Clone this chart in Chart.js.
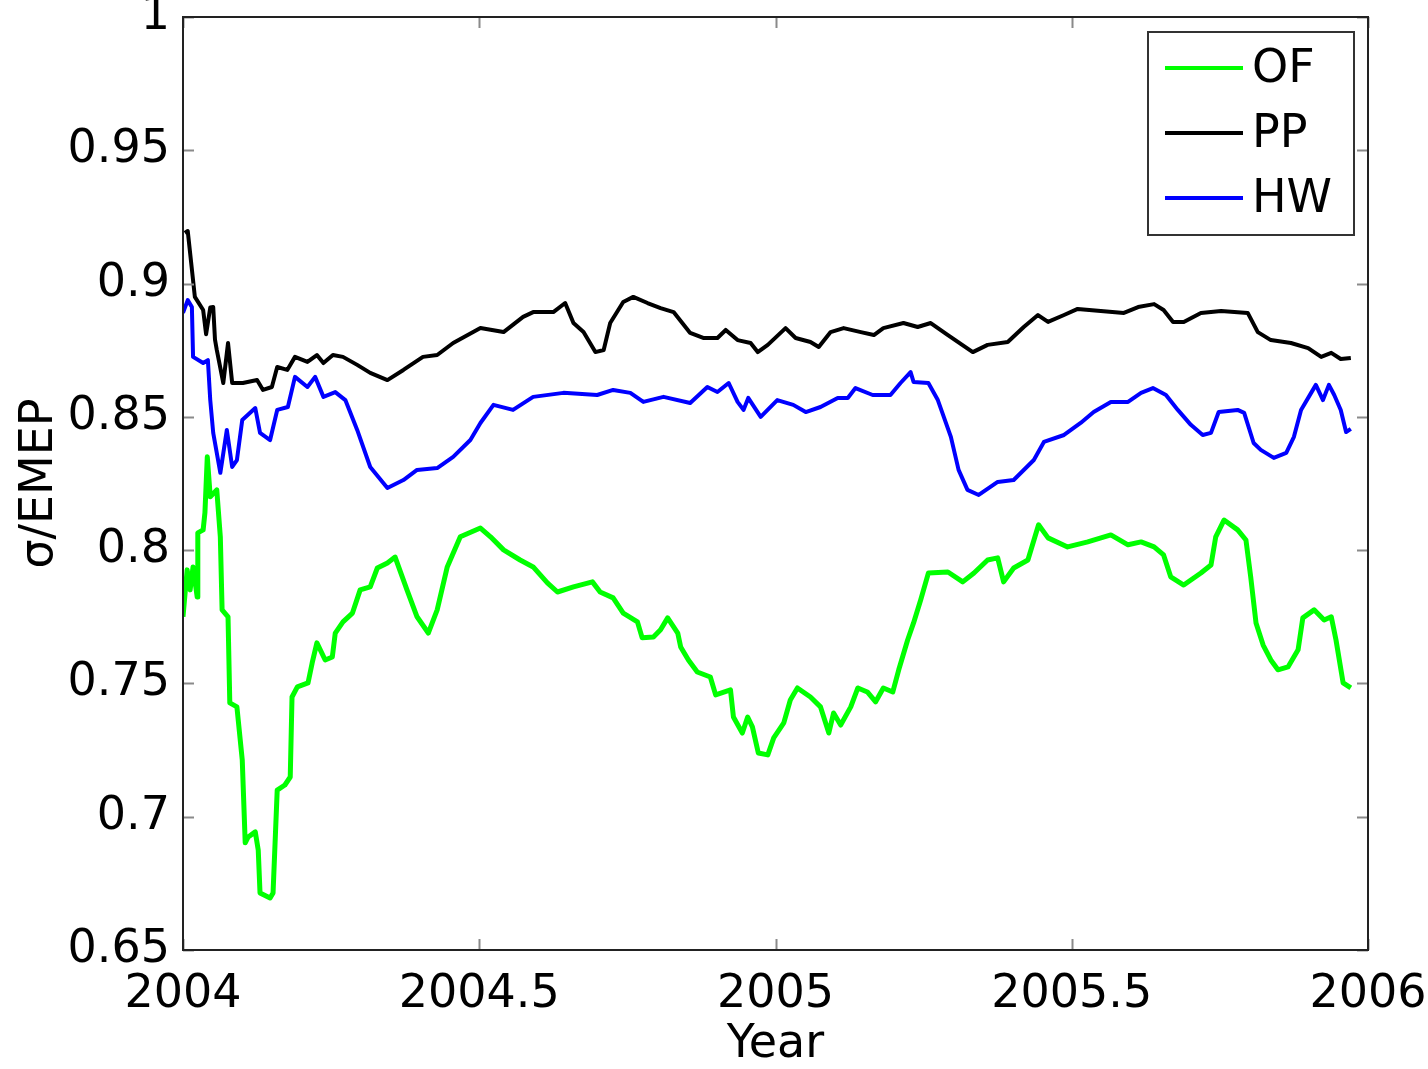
<!DOCTYPE html>
<html>
<head>
<meta charset="utf-8">
<script src="https://cdn.jsdelivr.net/npm/chart.js@4.4.1/dist/chart.umd.min.js"></script>
<style>
  html, body { margin: 0; padding: 0; background: #fff; }
  #wrap { width: 1428px; height: 1069px; position: relative; }
</style>
</head>
<body>
<div id="wrap"><canvas id="chart"></canvas></div>
<script>
const xTicks = [2004, 2004.5, 2005, 2005.5, 2006];
const yTicks = [0.65, 0.7, 0.75, 0.8, 0.85, 0.9, 0.95, 1];

// OF (green)
const ofYear = [
  2004.000, 2004.007, 2004.012, 2004.017, 2004.024, 2004.025, 2004.034, 2004.037, 2004.041, 2004.046,
  2004.057, 2004.063, 2004.066, 2004.076, 2004.079, 2004.091, 2004.100, 2004.105, 2004.110, 2004.122,
  2004.127, 2004.130, 2004.147, 2004.152, 2004.159, 2004.172, 2004.181, 2004.184, 2004.193, 2004.211,
  2004.218, 2004.226, 2004.240, 2004.252, 2004.257, 2004.270, 2004.286, 2004.299, 2004.316, 2004.328,
  2004.345, 2004.358, 2004.378, 2004.395, 2004.414, 2004.429, 2004.446, 2004.468, 2004.502, 2004.519,
  2004.541, 2004.569, 2004.591, 2004.615, 2004.632, 2004.659, 2004.691, 2004.704, 2004.726, 2004.743,
  2004.767, 2004.775, 2004.794, 2004.806, 2004.818, 2004.835, 2004.840, 2004.853, 2004.868, 2004.890,
  2004.899, 2004.924, 2004.929, 2004.944, 2004.953, 2004.961, 2004.971, 2004.987, 2004.997, 2005.014,
  2005.025, 2005.037, 2005.059, 2005.076, 2005.090, 2005.098, 2005.110, 2005.127, 2005.139, 2005.155,
  2005.169, 2005.182, 2005.198, 2005.208, 2005.223, 2005.233, 2005.245, 2005.258, 2005.291, 2005.316,
  2005.335, 2005.358, 2005.375, 2005.385, 2005.402, 2005.426, 2005.444, 2005.460, 2005.493, 2005.527,
  2005.566, 2005.595, 2005.617, 2005.639, 2005.655, 2005.667, 2005.689, 2005.718, 2005.735, 2005.743,
  2005.757, 2005.780, 2005.794, 2005.802, 2005.811, 2005.823, 2005.836, 2005.848, 2005.865, 2005.882,
  2005.890, 2005.909, 2005.926, 2005.938, 2005.946, 2005.958, 2005.971
];
const ofValue = [
  0.775, 0.7926, 0.7851, 0.7937, 0.7824, 0.8065, 0.8076, 0.814, 0.835, 0.82,
  0.8226, 0.805, 0.7776, 0.775, 0.7427, 0.7412, 0.7213, 0.6902, 0.6924, 0.6943,
  0.6875, 0.6714, 0.6695, 0.6714, 0.71, 0.7119, 0.7149, 0.7449, 0.7487, 0.7502,
  0.7577, 0.7652, 0.7588, 0.7599, 0.7689, 0.7731, 0.7764, 0.7851, 0.7862, 0.7933,
  0.7952, 0.7974, 0.7851, 0.775, 0.7689, 0.7776, 0.7937, 0.805, 0.8083, 0.805,
  0.8001, 0.7963, 0.7937, 0.7877, 0.7843, 0.7862, 0.7881, 0.7843, 0.7821, 0.7764,
  0.7731, 0.7671, 0.7674, 0.7701, 0.7746, 0.7689, 0.7637, 0.7588, 0.7543, 0.7524,
  0.7457, 0.7476, 0.7374, 0.7314, 0.7374, 0.7337, 0.7239, 0.7232, 0.7296, 0.7352,
  0.7438, 0.7483, 0.7449, 0.7412, 0.7314, 0.7389, 0.7344, 0.7412, 0.7483, 0.7468,
  0.7431, 0.7483, 0.7468, 0.7551, 0.7663, 0.7727, 0.7813, 0.7914, 0.7918, 0.7881,
  0.7914, 0.7963, 0.7971, 0.7881, 0.7933, 0.7963, 0.8095, 0.8046, 0.8012, 0.8031,
  0.8057, 0.802, 0.8031, 0.8012, 0.7982, 0.79, 0.7869, 0.7914, 0.7944, 0.805,
  0.8113, 0.8076, 0.8038, 0.79, 0.7727, 0.7644, 0.7588, 0.7551, 0.7562, 0.7626,
  0.7746, 0.7776, 0.7738, 0.775, 0.7663, 0.7502, 0.7483
];

// PP (black)
const ppYear = [
  2004.003, 2004.008, 2004.020, 2004.034, 2004.039, 2004.046, 2004.051, 2004.054, 2004.057, 2004.068,
  2004.076, 2004.083, 2004.101, 2004.125, 2004.135, 2004.150, 2004.159, 2004.176, 2004.189, 2004.210,
  2004.226, 2004.237, 2004.253, 2004.270, 2004.294, 2004.316, 2004.345, 2004.372, 2004.405, 2004.429,
  2004.456, 2004.502, 2004.541, 2004.574, 2004.591, 2004.625, 2004.645, 2004.659, 2004.676, 2004.696,
  2004.710, 2004.721, 2004.743, 2004.760, 2004.784, 2004.806, 2004.828, 2004.856, 2004.878, 2004.902,
  2004.916, 2004.936, 2004.958, 2004.970, 2004.987, 2005.017, 2005.034, 2005.059, 2005.073, 2005.093,
  2005.115, 2005.144, 2005.166, 2005.182, 2005.216, 2005.240, 2005.262, 2005.291, 2005.333, 2005.358,
  2005.392, 2005.419, 2005.443, 2005.460, 2005.487, 2005.510, 2005.549, 2005.588, 2005.612, 2005.639,
  2005.655, 2005.671, 2005.689, 2005.718, 2005.752, 2005.797, 2005.814, 2005.836, 2005.870, 2005.899,
  2005.921, 2005.938, 2005.954, 2005.971
];
const ppValue = [
  0.919, 0.9197, 0.895, 0.8901, 0.881, 0.891, 0.8912, 0.879, 0.8751, 0.8627,
  0.8777, 0.8627, 0.8627, 0.8638, 0.8601, 0.8612, 0.8687, 0.8676, 0.8725, 0.8706,
  0.8732, 0.8702, 0.8732, 0.8725, 0.8695, 0.8665, 0.8638, 0.8676, 0.8725, 0.8732,
  0.8777, 0.8833, 0.8818, 0.8875, 0.8893, 0.8893, 0.8927, 0.8852, 0.8818, 0.8743,
  0.8751, 0.8852, 0.8931, 0.895, 0.8927, 0.8908, 0.8893, 0.8815, 0.8796, 0.8796,
  0.8826, 0.8788, 0.8777, 0.8743, 0.877, 0.8833, 0.8796, 0.8781, 0.8762, 0.8818,
  0.8833, 0.8818, 0.8807, 0.8833, 0.8852, 0.8837, 0.8852, 0.8807, 0.8743, 0.877,
  0.8781, 0.8837, 0.8882, 0.8856, 0.8882, 0.8905, 0.8897, 0.889, 0.8912, 0.8923,
  0.8901, 0.8856, 0.8856, 0.889, 0.8897, 0.889, 0.8818, 0.8788, 0.8777, 0.8758,
  0.8725, 0.874, 0.8717, 0.8721
];

// HW (blue)
const hwYear = [
  2004.000, 2004.008, 2004.015, 2004.017, 2004.034, 2004.042, 2004.046, 2004.051, 2004.063, 2004.074,
  2004.083, 2004.091, 2004.100, 2004.122, 2004.130, 2004.147, 2004.159, 2004.177, 2004.189, 2004.210,
  2004.223, 2004.237, 2004.257, 2004.274, 2004.294, 2004.316, 2004.345, 2004.372, 2004.395, 2004.429,
  2004.456, 2004.485, 2004.502, 2004.524, 2004.557, 2004.591, 2004.642, 2004.699, 2004.726, 2004.755,
  2004.777, 2004.811, 2004.856, 2004.885, 2004.902, 2004.921, 2004.936, 2004.946, 2004.954, 2004.975,
  2005.003, 2005.030, 2005.051, 2005.076, 2005.105, 2005.122, 2005.135, 2005.164, 2005.194, 2005.211,
  2005.228, 2005.233, 2005.258, 2005.274, 2005.296, 2005.309, 2005.324, 2005.343, 2005.375, 2005.402,
  2005.436, 2005.453, 2005.487, 2005.515, 2005.537, 2005.566, 2005.595, 2005.617, 2005.637, 2005.659,
  2005.679, 2005.701, 2005.721, 2005.735, 2005.748, 2005.780, 2005.791, 2005.807, 2005.819, 2005.841,
  2005.862, 2005.875, 2005.887, 2005.904, 2005.912, 2005.924, 2005.934, 2005.943, 2005.954, 2005.963,
  2005.971
];
const hwValue = [
  0.889, 0.8938, 0.8912, 0.8725, 0.8702, 0.8713, 0.8563, 0.844, 0.829, 0.8451,
  0.8312, 0.8338, 0.8488, 0.8533, 0.844, 0.8413, 0.8526, 0.8537, 0.865, 0.8612,
  0.865, 0.8575, 0.8593, 0.8563, 0.8451, 0.8312, 0.8233, 0.8263, 0.8301, 0.8308,
  0.835, 0.8413, 0.8477, 0.8545, 0.8526, 0.8575, 0.859, 0.8582, 0.8601, 0.859,
  0.8556, 0.8575, 0.8552, 0.8612, 0.8593, 0.8627, 0.8556, 0.8526, 0.8571, 0.85,
  0.8563, 0.8545, 0.8518, 0.8537, 0.8571, 0.8571, 0.8608, 0.8582, 0.8582, 0.8627,
  0.8668, 0.8631, 0.8627, 0.8563, 0.8425, 0.8301, 0.8226, 0.8207, 0.8256, 0.8263,
  0.8338, 0.8406, 0.8432, 0.8477, 0.8518, 0.8556, 0.8556, 0.859, 0.8608, 0.8582,
  0.8526, 0.847, 0.8432, 0.844, 0.8518, 0.8526, 0.8515, 0.8402, 0.8376, 0.8346,
  0.8365, 0.8425, 0.8526, 0.859, 0.862, 0.8563, 0.862, 0.8582, 0.8526, 0.8443,
  0.8455
];

function toPoints(xs, ys) {
  return xs.map((x, i) => ({ x: x, y: ys[i] }));
}

const fontFamily = "'DejaVu Sans', 'Liberation Sans', Arial, sans-serif";
const fontSize = 46;

// frame, inward tick marks and the boxed legend
const framePlugin = {
  id: "frame",
  afterDraw(chart) {
    const ctx = chart.ctx;
    const a = chart.chartArea;
    const xs = chart.scales.x;
    const ys = chart.scales.y;
    const len = 11;
    ctx.save();
    ctx.strokeStyle = "#8a8a8a";
    ctx.lineWidth = 2;
    ctx.beginPath();
    xTicks.forEach(v => {
      const px = Math.round(xs.getPixelForValue(v)) + 0.5;
      ctx.moveTo(px, a.bottom); ctx.lineTo(px, a.bottom - len);
      ctx.moveTo(px, a.top); ctx.lineTo(px, a.top + len);
    });
    yTicks.forEach(v => {
      const py = Math.round(ys.getPixelForValue(v)) + 0.5;
      ctx.moveTo(a.left, py); ctx.lineTo(a.left + len, py);
      ctx.moveTo(a.right, py); ctx.lineTo(a.right - len, py);
    });
    ctx.stroke();
    ctx.strokeStyle = "#222";
    ctx.lineWidth = 2;
    ctx.strokeRect(a.left, a.top, a.right - a.left, a.bottom - a.top);

    // legend box
    const bx = 1148, by = 32, bw = 206, bh = 203;
    ctx.fillStyle = "#fff";
    ctx.fillRect(bx, by, bw, bh);
    ctx.strokeStyle = "#333";
    ctx.lineWidth = 2;
    ctx.strokeRect(bx, by, bw, bh);
    ctx.font = fontSize + "px " + fontFamily;
    ctx.textBaseline = "middle";
    ctx.textAlign = "left";
    chart.data.datasets.forEach((ds, i) => {
      const y = by + 36 + i * 65;
      ctx.strokeStyle = ds.borderColor;
      ctx.lineWidth = 4;
      ctx.beginPath();
      ctx.moveTo(bx + 17, y);
      ctx.lineTo(bx + 95, y);
      ctx.stroke();
      ctx.fillStyle = "#000";
      ctx.fillText(ds.label, bx + 104, y + 2);
    });
    ctx.restore();
  }
};

const lineStyle = {
  pointRadius: 0,
  tension: 0,
  fill: false,
  borderJoinStyle: "round"
};

new Chart(document.getElementById("chart"), {
  type: "line",
  data: {
    datasets: [
      Object.assign({ label: "OF", data: toPoints(ofYear, ofValue), borderColor: "#00ff00", borderWidth: 5 }, lineStyle),
      Object.assign({ label: "PP", data: toPoints(ppYear, ppValue), borderColor: "#000000", borderWidth: 4 }, lineStyle),
      Object.assign({ label: "HW", data: toPoints(hwYear, hwValue), borderColor: "#0000ff", borderWidth: 4 }, lineStyle)
    ]
  },
  options: {
    responsive: true,
    maintainAspectRatio: false,
    animation: false,
    layout: {
      padding: { left: 0, top: 17, right: 60, bottom: 0 }
    },
    plugins: {
      legend: { display: false },
      tooltip: { enabled: false }
    },
    scales: {
      x: {
        type: "linear",
        min: 2004,
        max: 2006,
        afterBuildTicks(scale) {
          scale.ticks = xTicks.map(v => ({ value: v }));
        },
        afterFit(scale) {
          scale.height = 119;
          scale.paddingLeft = 0;
          scale.paddingRight = 0;
        },
        grid: { display: false, drawTicks: false },
        border: { display: false },
        ticks: {
          autoSkip: false,
          maxRotation: 0,
          padding: 17,
          color: "#000",
          font: { family: fontFamily, size: fontSize },
          callback: v => String(v)
        },
        title: {
          display: true,
          text: "Year",
          color: "#000",
          font: { family: fontFamily, size: fontSize, lineHeight: 1 },
          padding: { top: 0, bottom: 1 }
        }
      },
      y: {
        type: "linear",
        min: 0.65,
        max: 1,
        afterBuildTicks(scale) {
          scale.ticks = yTicks.map(v => ({ value: v }));
        },
        afterFit(scale) {
          scale.width = 183;
          scale.paddingTop = 0;
          scale.paddingBottom = 0;
        },
        grid: { display: false, drawTicks: false },
        border: { display: false },
        ticks: {
          autoSkip: false,
          padding: 13,
          color: "#000",
          font: { family: fontFamily, size: fontSize },
          callback: v => String(Number(v.toFixed(2)))
        },
        title: {
          display: true,
          text: "σ/EMEP",
          color: "#000",
          font: { family: fontFamily, size: fontSize, lineHeight: 1 },
          padding: { top: 17, bottom: 0 }
        }
      }
    }
  },
  plugins: [framePlugin]
});
</script>
</body>
</html>
